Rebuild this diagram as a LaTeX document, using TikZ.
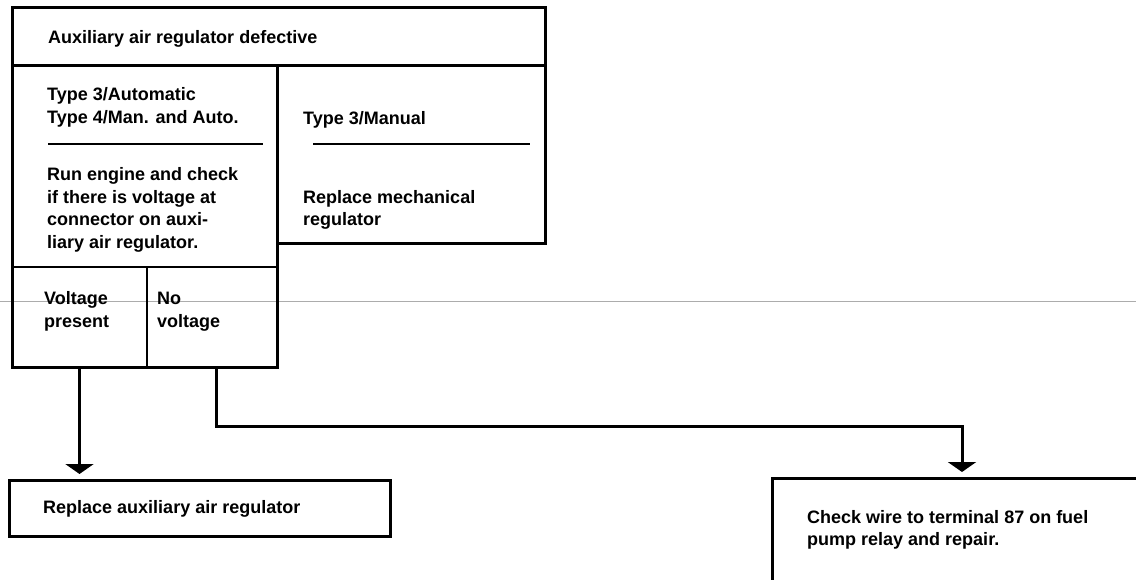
\documentclass[tikz,border=0pt]{standalone}
\usepackage{fontspec}
\setmainfont{Liberation Sans}
\usetikzlibrary{arrows.meta}
\begin{document}
\begin{tikzpicture}[x=1pt,y=-1pt,
  box/.style={draw, line width=3pt, inner sep=0pt, outer sep=0pt, anchor=north west},
  cell/.style={draw, line width=2pt, inner sep=0pt, outer sep=0pt, anchor=north west},
  rule/.style={line width=1.7pt},
  txt/.style={anchor=base west, inner sep=0pt, align=left,
              font=\bfseries\fontsize{18}{22.6}\selectfont},
  flow/.style={line width=3pt, line join=miter,
               -{Triangle[width=28pt,length=10pt]}, shorten >=6pt}]
\useasboundingbox (0,0) rectangle (1136,579);

% faint horizontal stroke running across the sheet
\draw[gray!65, line width=0.8pt] (0,301) -- (1136,301);

% upper table
\node[box, minimum width=533pt, minimum height=58pt] (hdr) at (12,7) {};
\node[box, minimum width=265pt, minimum height=302pt] (auto) at (12,65) {};
\node[box, minimum width=268pt, minimum height=178pt] (manual) at (277,65) {};
\node[cell, minimum width=135pt, minimum height=100pt] (vp) at (12,267) {};
\node[cell, minimum width=130pt, minimum height=100pt] (nv) at (147,267) {};
\draw[box] (12,367) -- (277,367);

% short rules under the type headings
\coordinate (ra1) at (48,144);  \coordinate (ra2) at (263,144);
\coordinate (rm1) at (313,144); \coordinate (rm2) at (530,144);
\draw[rule] (ra1) -- (ra2);
\draw[rule] (rm1) -- (rm2);

% result boxes
\node[box, minimum width=381pt, minimum height=56pt] (rep) at (9,480) {};
\node[box, minimum width=380pt, minimum height=140pt] (chk) at (772,478) {};

% texts
\node[txt] (t0) at (48,43) {Auxiliary air regulator defective};
\node[txt] (t1) at (47,100) {Type 3/Automatic};
\node[txt] (t2) at (47,123) {Type 4/Man. and Auto.};
\node[txt] (t3) at (47,180) {Run engine and check};
\node[txt] (t4) at (47,203) {if there is voltage at};
\node[txt] (t5) at (47,225) {connector on auxi-};
\node[txt] (t6) at (47,248) {liary air regulator.};
\node[txt] (m1) at (303,124) {Type 3/Manual};
\node[txt] (m2) at (303,203) {Replace mechanical};
\node[txt] (m3) at (303,225) {regulator};
\node[txt] (v1) at (44,304) {Voltage};
\node[txt] (v2) at (44,327) {present};
\node[txt] (n1) at (157,304) {No};
\node[txt] (n2) at (157,327) {voltage};
\node[txt] (r1) at (43,513) {Replace auxiliary air regulator};
\node[txt] (c1) at (807,523) {Check wire to terminal 87 on fuel};
\node[txt] (c2) at (807,545) {pump relay and repair.};

% connectors
\draw[flow] (vp.south) -- (vp.south |- rep.north);
\draw[flow] ([xshift=4pt]nv.south) -- ++(0,59) -| (chk.north);
\end{tikzpicture}
\end{document}
